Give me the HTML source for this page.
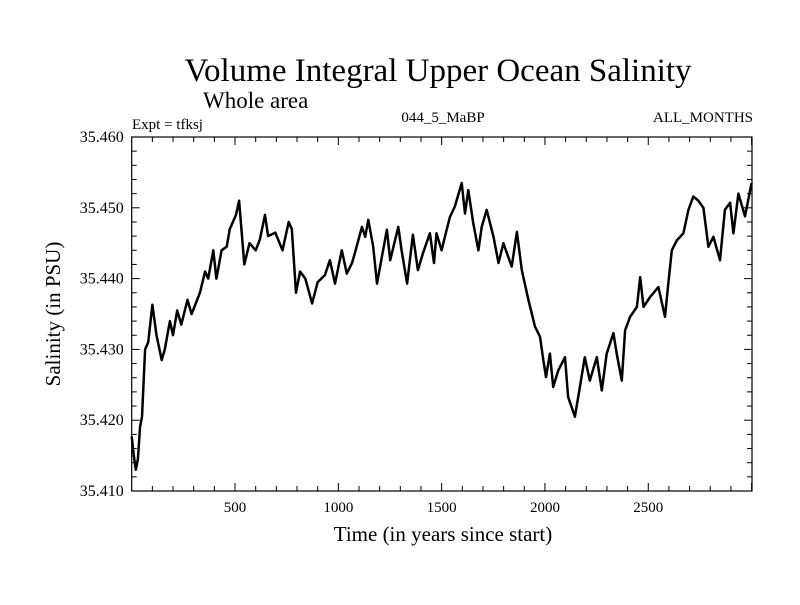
<!DOCTYPE html>
<html><head><meta charset="utf-8"><style>
body{margin:0;background:#fff}
svg text{font-family:"Liberation Serif",serif;fill:#000}
</style></head><body>
<svg id="chart" width="800" height="600" viewBox="0 0 800 600" xmlns="http://www.w3.org/2000/svg">
<text x="438" y="81" font-size="33" text-anchor="middle">Volume Integral Upper Ocean Salinity</text>
<text x="203" y="108" font-size="23">Whole area</text>
<text x="132" y="129" font-size="15">Expt = tfksj</text>
<text x="443" y="122" font-size="15" text-anchor="middle">044_5_MaBP</text>
<text x="753" y="122" font-size="15" text-anchor="end">ALL_MONTHS</text>
<text x="443" y="541" font-size="21" text-anchor="middle">Time (in years since start)</text>
<text x="0" y="0" font-size="21" text-anchor="middle" transform="translate(60,314) rotate(-90)">Salinity (in PSU)</text>
<g id="axes"></g>
<g id="plot"></g>
</svg>
<script>
const years=[0,10,20,30,40,50,65,80,100,120,145,160,185,200,220,240,270,290,330,355,370,395,410,435,460,475,490,505,520,545,570,600,620,645,660,695,730,760,775,795,815,840,873,900,935,959,984,1017,1041,1066,1080,1114,1130,1145,1169,1187,1211,1235,1251,1290,1306,1333,1361,1385,1410,1443,1463,1475,1500,1516,1540,1564,1597,1613,1629,1653,1678,1694,1718,1751,1775,1799,1839,1864,1888,1920,1952,1976,1992,2005,2024,2040,2064,2097,2112,2145,2169,2193,2217,2251,2275,2299,2331,2347,2372,2388,2412,2445,2461,2477,2509,2549,2581,2597,2614,2638,2670,2694,2718,2742,2767,2791,2815,2847,2871,2896,2912,2936,2968,3000];
const salinity=[35.4177,35.4150,35.4130,35.4145,35.4190,35.4205,35.4300,35.4310,35.4363,35.4320,35.4285,35.4300,35.4340,35.4320,35.4355,35.4335,35.4370,35.4350,35.4380,35.4410,35.4400,35.4440,35.4400,35.4440,35.4445,35.4470,35.4480,35.4490,35.4510,35.4420,35.4450,35.4440,35.4455,35.4490,35.4460,35.4465,35.4440,35.4480,35.4470,35.4380,35.4410,35.4400,35.4365,35.4395,35.4405,35.4426,35.4393,35.4440,35.4407,35.4422,35.4436,35.4473,35.4459,35.4483,35.4445,35.4393,35.4431,35.4469,35.4426,35.4473,35.4440,35.4393,35.4462,35.4412,35.4436,35.4464,35.4422,35.4464,35.4440,35.4459,35.4487,35.4502,35.4535,35.4492,35.4525,35.4478,35.4440,35.4473,35.4497,35.4459,35.4422,35.4450,35.4417,35.4466,35.4412,35.4370,35.4332,35.4318,35.4285,35.4261,35.4294,35.4247,35.4270,35.4289,35.4233,35.4205,35.4247,35.4289,35.4256,35.4289,35.4242,35.4294,35.4323,35.4294,35.4256,35.4327,35.4346,35.4360,35.4402,35.4360,35.4374,35.4388,35.4346,35.4393,35.4440,35.4454,35.4464,35.4497,35.4516,35.4510,35.4500,35.4445,35.4459,35.4426,35.4497,35.4507,35.4464,35.4520,35.4488,35.4535];
const yTicks=[35.410,35.420,35.430,35.440,35.450,35.460];
const yTickLabels=["35.410","35.420","35.430","35.440","35.450","35.460"];
const xTicks=[500,1000,1500,2000,2500];
const xTickLabels=["500","1000","1500","2000","2500"];

const L=131.7,R=752,T=137,B=491,X0=0,X1=3002,Y0=35.410,Y1=35.460;
function sx(v){return L+(v-X0)/(X1-X0)*(R-L);}
function sy(v){return B-(v-Y0)/(Y1-Y0)*(B-T);}
const NS='http://www.w3.org/2000/svg';
const axes=document.getElementById('axes'),plot=document.getElementById('plot');
function mk(tag,attrs,parent){const e=document.createElementNS(NS,tag);for(const k in attrs)e.setAttribute(k,attrs[k]);parent.appendChild(e);return e;}

const frame=mk('rect',{x:L,y:T,width:R-L,height:B-T,fill:'none',stroke:'#000','stroke-width':1.2},axes);



for(let i=0;i<=25;i++){
  const v=Y0+i*0.002,y=sy(v),major=(i%5===0),len=major?8:5;
  const t1=mk('line',{x1:L,y1:y,x2:L+len,y2:y,stroke:'#000','stroke-width':1},axes);
  
  
  const t2=mk('line',{x1:R,y1:y,x2:R-len,y2:y,stroke:'#000','stroke-width':1},axes);
  
  
}
yTicks.forEach((v,i)=>{
  const t=mk('text',{x:L-8,y:sy(v)+5,'font-size':16,'text-anchor':'end'},axes);
  t.textContent=yTickLabels[i];
  
  
});
for(let v=100;v<X1;v+=100){
  const x=sx(v),major=(v%500===0),len=major?8:5;
  const t1=mk('line',{x1:x,y1:B,x2:x,y2:B-len,stroke:'#000','stroke-width':1},axes);
  
  
  const t2=mk('line',{x1:x,y1:T,x2:x,y2:T+len,stroke:'#000','stroke-width':1},axes);
  
  
}
xTicks.forEach((v,i)=>{
  const t=mk('text',{x:sx(v),y:512,'font-size':15,'text-anchor':'middle'},axes);
  t.textContent=xTickLabels[i];
  
  
});
const d=years.map((yr,i)=>(i?'L':'M')+sx(yr).toFixed(1)+','+sy(salinity[i]).toFixed(1)).join(' ');
const line=mk('path',{d:d,fill:'none',stroke:'#000','stroke-width':2.5,'stroke-linejoin':'round'},plot);


</script>
</body></html>
